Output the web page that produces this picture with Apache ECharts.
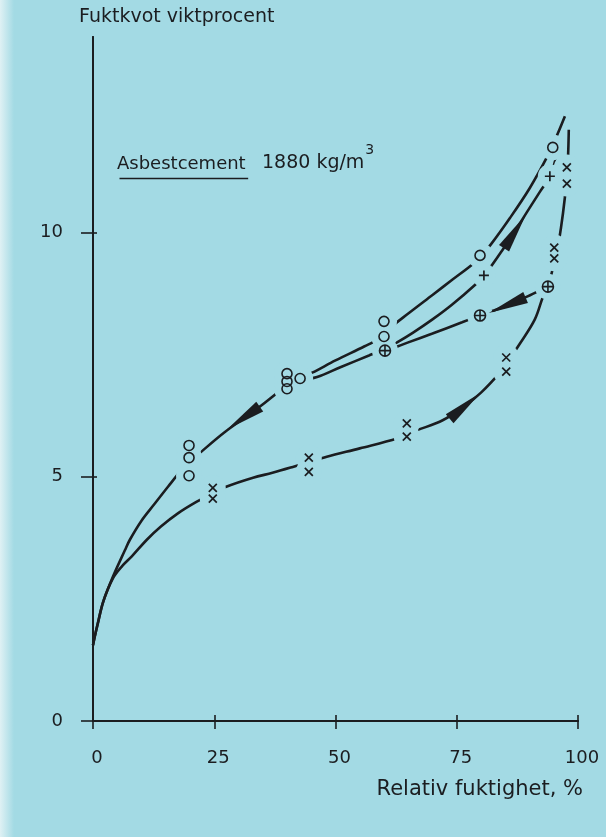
<!DOCTYPE html>
<html>
<head>
<meta charset="utf-8">
<script src="https://cdn.jsdelivr.net/npm/echarts@6/dist/echarts.min.js"></script>
<style>
  html, body { margin: 0; padding: 0; background: #a3dae4; }
  #chart { width: 606px; height: 837px; }
</style>
</head>
<body>
<div id="chart"></div>
<script>
// Axis ticks
const xTicks = [0, 25, 50, 75, 100];
const yTicks = [0, 5, 10];

// Desorption curve, from the top of the loop down to 0 % RH
const curveDesorption = [
  [97.3, 12.38], [95.5, 11.95], [93.6, 11.54], [90, 10.9], [86, 10.3], [82, 9.75],
  [79.8, 9.5], [78.4, 9.36], [74.2, 9.04], [70, 8.72], [65, 8.34], [60.8, 8.01],
  [58.8, 7.82], [56, 7.67], [50, 7.38], [45.2, 7.13], [42.7, 7.02], [40, 6.9],
  [37.5, 6.68], [33, 6.33], [27, 5.9], [21.6, 5.45], [19.8, 5.3], [18.6, 5.18],
  [15.5, 4.8], [12.5, 4.42], [10, 4.1], [7.6, 3.71], [6.6, 3.5], [4.1, 2.95],
  [2.1, 2.44], [1, 2.0], [0.3, 1.7], [0, 1.55]
];

// Absorption curve, from 0 % RH up to the top of the loop
const curveAbsorption = [
  [0, 1.55], [0.3, 1.7], [1, 2.0], [2.1, 2.44], [4.1, 2.92], [6, 3.17], [8, 3.37],
  [11.1, 3.71], [14, 3.98], [17.5, 4.25], [21.4, 4.49], [24.7, 4.66], [27.6, 4.8],
  [33, 4.98], [37, 5.08], [41.2, 5.2], [44.5, 5.3], [48.2, 5.41], [55, 5.58],
  [62.7, 5.78], [64.7, 5.88], [67, 5.96], [72, 6.15], [76.7, 6.45], [80, 6.72],
  [83.9, 7.13], [85.5, 7.35], [88, 7.72], [91.1, 8.22], [92.8, 8.69], [93.8, 8.89],
  [94.6, 9.18], [95.6, 9.58], [96.5, 10.1], [97.3, 10.72], [97.8, 11.25],
  [98.0, 11.7], [98.1, 12.1]
];

// Renewed absorption starting from the partly dried state at about 43 %
const curveReabsorption = [
  [42.7, 6.98], [46.2, 7.04], [51, 7.24], [56.9, 7.48], [60.2, 7.62], [62.7, 7.75],
  [66, 7.95], [70, 8.22], [74, 8.52], [78.8, 8.93], [80.6, 9.12], [81.9, 9.28],
  [84.5, 9.65], [87, 10.02], [89.5, 10.42], [92.2, 10.84], [94.2, 11.15], [95.5, 11.55]
];

// Desorption scanning curve from 94 %
const curveScan = [
  [93.8, 8.89], [90, 8.71], [85.5, 8.51], [82.3, 8.39], [79.8, 8.3], [76.1, 8.16],
  [70, 7.93], [65, 7.75], [62.9, 7.67], [60.2, 7.58]
];

// Measured points
const pointsCircle = [
  [19.8, 5.02], [19.8, 5.39], [19.8, 5.64],
  [40.0, 6.8], [40.0, 6.95], [40.0, 7.11], [42.7, 7.01],
  [60.0, 7.87], [60.0, 8.18], [79.8, 9.53], [94.8, 11.74]
];
const pointsPlus = [[80.6, 9.12], [94.2, 11.15]];
const pointsCirclePlus = [[60.2, 7.58], [79.8, 8.3], [93.8, 8.89]];
const pointsCross = [
  [24.7, 4.77], [24.7, 4.55], [44.5, 5.39], [44.5, 5.1],
  [64.7, 6.09], [64.7, 5.82], [85.2, 7.44], [85.2, 7.15],
  [95.1, 9.69], [95.1, 9.47], [97.7, 11.33], [97.7, 11.0]
];

// Direction arrows placed on the curves
const arrowPoints = [[31, 6.2], [87, 10.02], [85.4, 8.51], [76.7, 6.45]];
const arrowTurn = [125, -33, 113, -50];

const BG = '#a3dae4';
const INK = '#1b1d20';
const FONT = 'DejaVu Sans';

const chart = echarts.init(document.getElementById('chart'), null, { renderer: 'canvas' });

function curve(data) {
  return {
    type: 'line', data: data, smooth: 0.35, showSymbol: false, silent: true,
    lineStyle: { color: INK, width: 2.6, opacity: 1 }, z: 2, animation: false
  };
}
function halo(data, size) {
  return {
    type: 'scatter', data: data, symbol: 'circle', symbolSize: size, silent: true,
    itemStyle: { color: BG, borderWidth: 0, opacity: 1 }, z: 3, animation: false
  };
}
function marks(data, symbol, size, width) {
  return {
    type: 'scatter', data: data, symbol: symbol, symbolSize: size, silent: true,
    itemStyle: { color: 'rgba(0,0,0,0)', borderColor: INK, borderWidth: width, opacity: 1 },
    z: 4, animation: false
  };
}

// widths of the inner caption parts
const ctx = document.createElement('canvas').getContext('2d');
ctx.font = '18px "' + FONT + '"';
const wordW = ctx.measureText('Asbestcement').width;
ctx.font = '19px "' + FONT + '"';
const densW = ctx.measureText('1880 kg/m').width;

const option = {
  backgroundColor: BG,
  animation: false,
  textStyle: { fontFamily: FONT, color: INK },
  title: [
    { text: 'Fuktkvot viktprocent', left: 79, top: 8, padding: 0,
      textStyle: { fontSize: 19, fontWeight: 'normal', color: INK, fontFamily: FONT } },
    { text: 'Relativ fuktighet, %', right: 23, top: 779, padding: 0,
      textStyle: { fontSize: 21, fontWeight: 'normal', color: INK, fontFamily: FONT } }
  ],
  grid: { left: 93, right: 28, top: 37, bottom: 116 },
  xAxis: [
    { type: 'value', min: 0, max: 100, position: 'bottom', z: 10,
      axisLine: { lineStyle: { color: INK, width: 2 } },
      axisTick: { customValues: xTicks, length: 8, lineStyle: { color: INK, width: 1.6 } },
      axisLabel: { customValues: xTicks, margin: 28, fontSize: 18, color: INK, fontFamily: FONT,
                   padding: [0, 0, 0, 8] },
      splitLine: { show: false } },
    { type: 'value', min: 0, max: 100, position: 'bottom', z: 10,
      axisLine: { show: false },
      axisTick: { customValues: xTicks, inside: true, length: 6, lineStyle: { color: INK, width: 1.6 } },
      axisLabel: { show: false }, splitLine: { show: false } },
    { type: 'value', min: 0, max: 100, position: 'top', z: 10,
      axisLine: { lineStyle: { color: INK, width: 2 } },
      axisTick: { show: false }, axisLabel: { show: false }, splitLine: { show: false } }
  ],
  yAxis: [
    { type: 'value', min: 0, max: 14, position: 'left', z: 10,
      axisLine: { lineStyle: { color: INK, width: 2 } },
      axisTick: { customValues: yTicks, length: 12, lineStyle: { color: INK, width: 1.6 } },
      axisLabel: { customValues: yTicks, margin: 30, fontSize: 18, color: INK, fontFamily: FONT },
      splitLine: { show: false } },
    { type: 'value', min: 0, max: 14, position: 'left', z: 10,
      axisLine: { show: false },
      axisTick: { customValues: yTicks, inside: true, length: 4, lineStyle: { color: INK, width: 1.6 } },
      axisLabel: { show: false }, splitLine: { show: false } },
    { type: 'value', min: 0, max: 14, position: 'right', z: 10,
      axisLine: { lineStyle: { color: INK, width: 2 } },
      axisTick: { show: false }, axisLabel: { show: false }, splitLine: { show: false } }
  ],
  graphic: [
    { type: 'rect', left: 0, top: 0, z: -10, silent: true,
      shape: { width: 14, height: 837 },
      style: { fill: new echarts.graphic.LinearGradient(0, 0, 1, 0, [
        { offset: 0, color: '#dff1f4' }, { offset: 1, color: BG }]) } },
    { type: 'text', left: 117, top: 155, silent: true,
      style: { text: 'Asbestcement', font: '18px "' + FONT + '"', fill: INK } },
    { type: 'line', left: 117, top: 176, silent: true,
      shape: { x1: 0, y1: 0, x2: wordW, y2: 0 },
      style: { stroke: INK, lineWidth: 1.6 } },
    { type: 'text', left: 262, top: 154, silent: true,
      style: { text: '1880 kg/m', font: '19px "' + FONT + '"', fill: INK } },
    { type: 'text', left: 262 + densW + 1, top: 143, silent: true,
      style: { text: '3', font: '14px "' + FONT + '"', fill: INK } }
  ],
  series: [
    curve(curveDesorption),
    curve(curveAbsorption),
    curve(curveReabsorption),
    curve(curveScan),
    halo(pointsCircle, 26),
    halo(pointsPlus, 24),
    halo(pointsCirclePlus, 26),
    halo(pointsCross, 26),
    marks(pointsCircle, 'circle', 10, 1.6),
    marks(pointsPlus, 'path://M5,0L5,10M0,5L10,5', 10, 1.7),
    marks(pointsCirclePlus, 'path://M10,5A5,5,0,1,1,0,5A5,5,0,1,1,10,5ZM5,0L5,10M0,5L10,5', 11, 1.6),
    marks(pointsCross, 'path://M0,0L10,10M10,0L0,10', 8, 1.7),
    {
      type: 'scatter', silent: true, z: 5, animation: false,
      data: arrowPoints.map((p, i) => ({ value: p, symbolRotate: arrowTurn[i] })),
      symbol: 'triangle', symbolSize: [12, 40],
      itemStyle: { color: INK, opacity: 1 }
    }
  ]
};

chart.setOption(option);
</script>
</body>
</html>
